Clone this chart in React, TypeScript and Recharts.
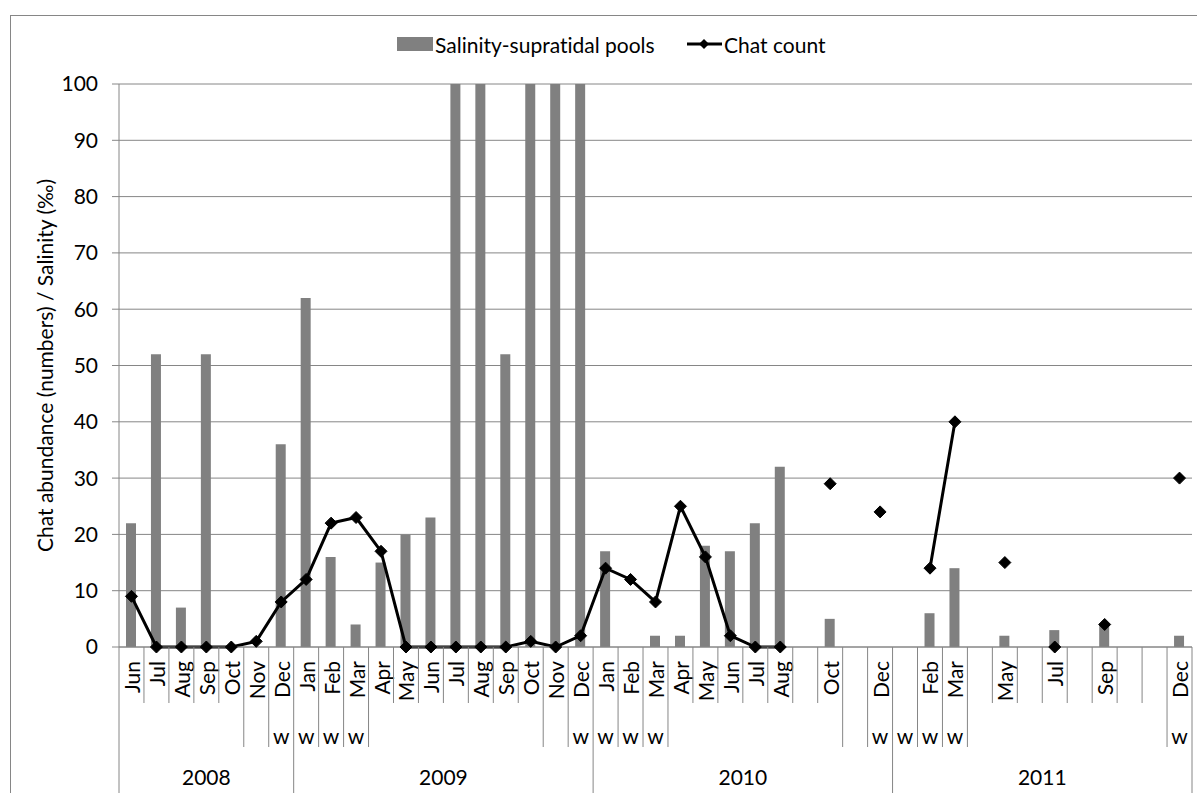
import React from 'react';
import {
  ComposedChart,
  Bar,
  Line,
  XAxis,
  YAxis,
  CartesianGrid,
  Legend,
} from 'recharts';

// ---- data ----
const MONTHS = [
  'Jun', 'Jul', 'Aug', 'Sep', 'Oct', 'Nov', 'Dec',
  'Jan', 'Feb', 'Mar', 'Apr', 'May', 'Jun', 'Jul', 'Aug', 'Sep', 'Oct', 'Nov', 'Dec',
  'Jan', 'Feb', 'Mar', 'Apr', 'May', 'Jun', 'Jul', 'Aug', '', 'Oct', '', 'Dec',
  '', 'Feb', 'Mar', '', 'May', '', 'Jul', '', 'Sep', '', '', 'Dec',
];

// second level: 'w' or ' ' starts a group, '' continues previous group
const WEEK_FLAGS = [
  ' ', '', '', '', '', ' ', 'w',
  'w', 'w', 'w', ' ', '', '', '', '', '', '', ' ', 'w',
  'w', 'w', 'w', ' ', '', '', '', '', '', '', ' ', 'w',
  'w', 'w', 'w', ' ', '', '', '', '', '', '', '', 'w',
];

const YEARS = [
  '2008', '', '', '', '', '', '',
  '2009', '', '', '', '', '', '', '', '', '', '', '',
  '2010', '', '', '', '', '', '', '', '', '', '', '',
  '2011', '', '', '', '', '', '', '', '', '', '', '',
];

const SALINITY: (number | null)[] = [
  22, 52, 7, 52, null, null, 36,
  62, 16, 4, 15, 20, 23, 100, 100, 52, 100, 100, 100,
  17, null, 2, 2, 18, 17, 22, 32, null, 5, null, null,
  null, 6, 14, null, 2, null, 3, null, 4, null, null, 2,
];

const CHAT: (number | null)[] = [
  9, 0, 0, 0, 0, 1, 8,
  12, 22, 23, 17, 0, 0, 0, 0, 0, 1, 0, 2,
  14, 12, 8, 25, 16, 2, 0, 0, null, 29, null, 24,
  null, 14, 40, null, 15, null, 0, null, 4, null, null, 30,
];

const Y_TICKS = [0, 10, 20, 30, 40, 50, 60, 70, 80, 90, 100];

const SERIES_BAR = 'Salinity-supratidal pools';
const SERIES_LINE = 'Chat count';
const Y_TITLE = 'Chat abundance (numbers) / Salinity (\u2030)';

// ---- layout ----
const W = 1197;
const H = 793;
const PLOT_LEFT = 119;
const PLOT_RIGHT = 1192;
const PLOT_TOP = 84;
const X_AXIS_H = 146;
const FONT = 'Lato, "Open Sans", sans-serif';
const FS = 21;
const GRID = '#868686';
const BAR_FILL = '#808080';
const NOLIG = { fontVariantLigatures: 'none' as const };

const data = MONTHS.map((m, i) => ({
  key: `c${i}`,
  month: m,
  salinity: SALINITY[i],
  chat: CHAT[i],
}));

const HALF = (PLOT_RIGHT - PLOT_LEFT) / MONTHS.length / 2;

function yearGroupSize(i: number): number {
  let n = 1;
  while (i + n < YEARS.length && YEARS[i + n] === '') n++;
  return n;
}

function CategoryTick(props: any) {
  const { x, y, payload } = props;
  const i: number = payload.index;
  const left = x - HALF;
  const right = x + HALF;
  const isYearStart = YEARS[i] !== '';
  const isL2Start = WEEK_FLAGS[i] !== '';
  const sepBottom = isYearStart ? y + 160 : isL2Start ? y + 100 : y + 56;
  const last = i === MONTHS.length - 1;
  const n = isYearStart ? yearGroupSize(i) : 0;
  return (
    <g>
      <line x1={left} x2={left} y1={y} y2={sepBottom} stroke={GRID} strokeWidth={1} />
      {last && (
        <line x1={right} x2={right} y1={y} y2={y + 160} stroke={GRID} strokeWidth={1} />
      )}
      {MONTHS[i] !== '' && (
        <text
          x={x}
          y={y + 14}
          transform={`rotate(-90 ${x} ${y + 14})`}
          textAnchor="end"
          dominantBaseline="central"
          fontSize={FS}
          fontFamily={FONT}
          fill="#000"
        >
          {MONTHS[i]}
        </text>
      )}
      {WEEK_FLAGS[i].trim() !== '' && (
        <text
          x={x}
          y={y + 88}
          textAnchor="middle"
          dominantBaseline="central"
          fontSize={FS}
          fontFamily={FONT}
          fill="#000"
        >
          {WEEK_FLAGS[i]}
        </text>
      )}
      {isYearStart && (
        <text
          x={left + n * HALF}
          y={y + 129}
          textAnchor="middle"
          dominantBaseline="central"
          fontSize={FS}
          fontFamily={FONT}
          fill="#000"
        >
          {YEARS[i]}
        </text>
      )}
    </g>
  );
}

function Diamond(props: any) {
  const { cx, cy, payload, index } = props;
  if (payload == null || payload.chat == null || cx == null || cy == null) {
    return <g key={`d${index}`} />;
  }
  const r = 6;
  return (
    <path
      key={`d${index}`}
      d={`M${cx},${cy - r} L${cx + r},${cy} L${cx},${cy + r} L${cx - r},${cy} Z`}
      fill="#000"
      stroke="#000"
    />
  );
}

function LegendContent() {
  const cy = 44;
  return (
    <svg width={W} height={70} style={{ display: 'block' }}>
      <rect x={397} y={cy - 7} width={36} height={14} fill={BAR_FILL} />
      <text x={435} y={cy} dominantBaseline="central" fontSize={FS} fontFamily={FONT} fill="#000" style={NOLIG}>
        {SERIES_BAR}
      </text>
      <line x1={687} x2={722} y1={cy} y2={cy} stroke="#000" strokeWidth={3} />
      <path d={`M704,${cy - 5} L709,${cy} L704,${cy + 5} L699,${cy} Z`} fill="#000" />
      <text x={724} y={cy} dominantBaseline="central" fontSize={FS} fontFamily={FONT} fill="#000" style={NOLIG}>
        {SERIES_LINE}
      </text>
    </svg>
  );
}

export default function App() {
  return (
    <div
      style={{
        position: 'absolute',
        left: 0,
        top: 0,
        width: W,
        height: H,
        overflow: 'hidden',
        background: '#fff',
        fontFamily: FONT,
        fontVariantLigatures: 'none',
      }}
    >
      <div
        style={{
          position: 'absolute',
          left: 10,
          top: 15,
          width: W + 40,
          height: H + 40,
          border: `1px solid ${GRID}`,
          boxSizing: 'border-box',
        }}
      />
      <div style={{ position: 'absolute', left: 0, top: 0 }}>
        <ComposedChart
          width={W}
          height={H}
          data={data}
          margin={{ top: PLOT_TOP, right: W - PLOT_RIGHT, bottom: 0, left: 0 }}
          barCategoryGap={0}
        >
          <CartesianGrid horizontal vertical={false} stroke={GRID} strokeWidth={1} />
          <XAxis
            dataKey="key"
            type="category"
            interval={0}
            height={X_AXIS_H}
            tickLine={false}
            tickSize={0}
            tickMargin={0}
            axisLine={{ stroke: GRID, strokeWidth: 1 }}
            tick={<CategoryTick />}
          />
          <YAxis
            type="number"
            domain={[0, 100]}
            ticks={Y_TICKS}
            interval={0}
            width={PLOT_LEFT}
            tickSize={7}
            tickMargin={14}
            axisLine={{ stroke: GRID, strokeWidth: 1 }}
            tickLine={{ stroke: GRID, strokeWidth: 1 }}
            tick={{ fontSize: FS, fill: '#000', fontFamily: FONT }}
            label={{
              value: Y_TITLE,
              angle: -90,
              position: 'center',
              dx: -14,
              fontSize: FS,
              fill: '#000',
              fontFamily: FONT,
            }}
          />
          <Legend
            layout="horizontal"
            verticalAlign="middle"
            align="center"
            content={<LegendContent />}
            wrapperStyle={{ position: 'absolute', left: 0, top: 0, width: W, height: 70 }}
          />
          <Bar
            dataKey="salinity"
            name={SERIES_BAR}
            fill={BAR_FILL}
            barSize={10}
            isAnimationActive={false}
          />
          <Line
            dataKey="chat"
            name={SERIES_LINE}
            stroke="#000"
            strokeWidth={3}
            connectNulls={false}
            dot={Diamond}
            activeDot={false}
            isAnimationActive={false}
          />
        </ComposedChart>
      </div>
    </div>
  );
}
